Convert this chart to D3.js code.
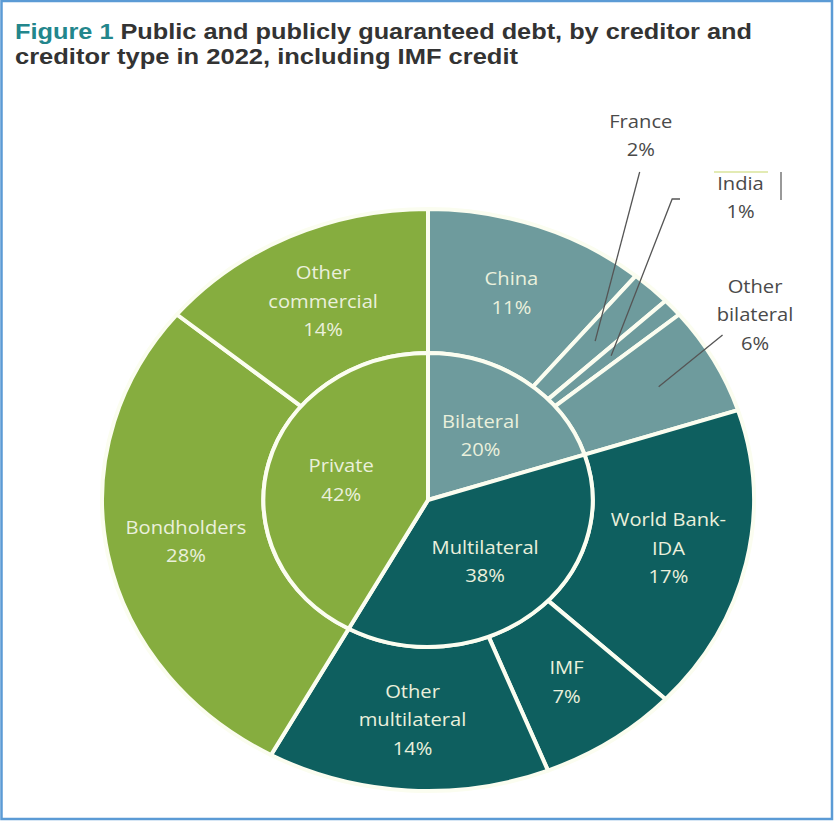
<!DOCTYPE html>
<html><head><meta charset="utf-8">
<script src="https://cdn.jsdelivr.net/npm/d3@7"></script>
<style>body{margin:0;background:#fff} svg{display:block}</style>
</head><body>
<svg id="c" width="834" height="821"></svg>
<script>
// ---- data ----
const groups = ["Bilateral", "Multilateral", "Private"];
const groupValues = [20, 38, 42];
const creditors = ["China", "France", "India", "Other bilateral", "World Bank-IDA", "IMF", "Other multilateral", "Bondholders", "Other commercial"];
const creditorValues = [11, 2, 1, 6, 17, 7, 14, 28, 14];
const creditorGroup = ["Bilateral", "Bilateral", "Bilateral", "Bilateral", "Multilateral", "Multilateral", "Multilateral", "Private", "Private"];
const creditorLabelLines = [["China"], ["France"], ["India"], ["Other", "bilateral"], ["World Bank-", "IDA"], ["IMF"], ["Other", "multilateral"], ["Bondholders"], ["Other", "commercial"]];
const externalLabels = ["France", "India", "Other bilateral"];
const titleLines = ["Public and publicly guaranteed debt, by creditor and", "creditor type in 2022, including IMF credit"];

// ---- style / layout ----
const groupColor = d3.scaleOrdinal().domain(groups).range(["#6E9B9D", "#0E5F5F", "#86AD3F"]);
const cx = 428, cy = 500, sx = 1.12;
const rInner = 147, rOuter = 291;
const extLayout = {
  "France": {text: [190, -379], leader: [[189, -328]], r: 218},
  "India": {text: [279, -317], leader: [[225, -301], [218, -301]], r: 218},
  "Other bilateral": {text: [292, -214], leader: [[263, -165]], r: 235}
};

const svg = d3.select("#c");
// frame
svg.append("rect").attr("x", 1.5).attr("y", 1).attr("width", 830.5).attr("height", 818)
  .attr("fill", "none").attr("stroke", "#5B9BD5").attr("stroke-width", 2.5);

// title
const t1 = svg.append("text").attr("x", 15).attr("y", 39)
  .attr("font-family", "Liberation Sans, Arial, sans-serif").attr("font-weight", "bold")
  .attr("font-size", 22).attr("fill", "#333").attr("textLength", 737).attr("lengthAdjust", "spacingAndGlyphs");
t1.append("tspan").attr("fill", "#23868C").text("Figure 1 ");
t1.append("tspan").text(titleLines[0]);
svg.append("text").attr("x", 15).attr("y", 64)
  .attr("font-family", "Liberation Sans, Arial, sans-serif").attr("font-weight", "bold")
  .attr("font-size", 22).attr("fill", "#333").attr("textLength", 503).attr("lengthAdjust", "spacingAndGlyphs")
  .text(titleLines[1]);

const g = svg.append("g").attr("transform", `translate(${cx},${cy}) scale(${sx},1)`);

const pie = d3.pie().sort(null).startAngle(0).endAngle(2 * Math.PI);
const outerData = pie.value(d => d.v)(creditors.map((c, i) => ({name: c, v: creditorValues[i], grp: creditorGroup[i], lines: creditorLabelLines[i]})));
const innerData = d3.pie().sort(null).value(d => d.v)(groups.map((gname, i) => ({name: gname, v: groupValues[i]})));

const arcOuter = d3.arc().innerRadius(rInner).outerRadius(rOuter);
const arcInner = d3.arc().innerRadius(0).outerRadius(rInner);

g.selectAll("path.o").data(outerData).join("path").attr("class", "o")
  .attr("d", arcOuter).attr("fill", d => groupColor(d.data.grp))
  .attr("stroke", "#FBFDF0").attr("stroke-width", 4).attr("vector-effect", "non-scaling-stroke")
  .attr("stroke-linejoin", "round");
g.selectAll("path.i").data(innerData).join("path").attr("class", "i")
  .attr("d", arcInner).attr("fill", d => groupColor(d.data.name))
  .attr("stroke", "#FBFDF0").attr("stroke-width", 4).attr("vector-effect", "non-scaling-stroke")
  .attr("stroke-linejoin", "round");

const font = "'Open Sans', sans-serif";
const lineH = 28.5;
const fs = 18;
function multiline(sel, lines, x, y, color, size) {
  const n = lines.length;
  lines.forEach((ln, k) => {
    sel.append("text").attr("x", x).attr("y", y + (k - (n - 1) / 2) * lineH)
      .attr("text-anchor", "middle").attr("dominant-baseline", "central")
      .attr("font-family", font).attr("font-size", size).attr("fill", color).text(ln);
  });
}
function polar(a, r) { return [Math.sin(a) * r, -Math.cos(a) * r]; }

// inner labels
innerData.forEach(d => {
  const a = (d.startAngle + d.endAngle) / 2;
  const [x, y] = polar(a, 80);
  multiline(g, [d.data.name, d.data.v + "%"], x, y, "#EAF0DC", fs);
});

// outer labels
outerData.forEach(d => {
  const a = (d.startAngle + d.endAngle) / 2;
  const lines = d.data.lines.concat([d.data.v + "%"]);
  if (externalLabels.includes(d.data.name)) {
    const L = extLayout[d.data.name];
    const end = polar(a, L.r);
    const pts = L.leader.concat([end]);
    g.append("path").attr("d", d3.line()(pts)).attr("fill", "none")
      .attr("stroke", "#555").attr("stroke-width", 1.3).attr("vector-effect", "non-scaling-stroke");
    const n = lines.length;
    multiline(g, lines, L.text[0], L.text[1] + (n - 1) / 2 * lineH, "#4A4A4A", fs);
  } else {
    const [x, y] = polar(a, 220);
    multiline(g, lines, x, y, "#EAF0DC", fs);
  }
});

// small artifacts near India label
g.append("line").attr("x1", (714 - cx) / sx).attr("x2", (768 - cx) / sx).attr("y1", 172 - cy).attr("y2", 172 - cy)
  .attr("stroke", "#C8D86A").attr("stroke-width", 1.2).attr("vector-effect", "non-scaling-stroke");
g.append("line").attr("x1", (781 - cx) / sx).attr("x2", (781 - cx) / sx).attr("y1", 172 - cy).attr("y2", 200 - cy)
  .attr("stroke", "#777").attr("stroke-width", 1.5).attr("vector-effect", "non-scaling-stroke");
</script>
</body></html>
